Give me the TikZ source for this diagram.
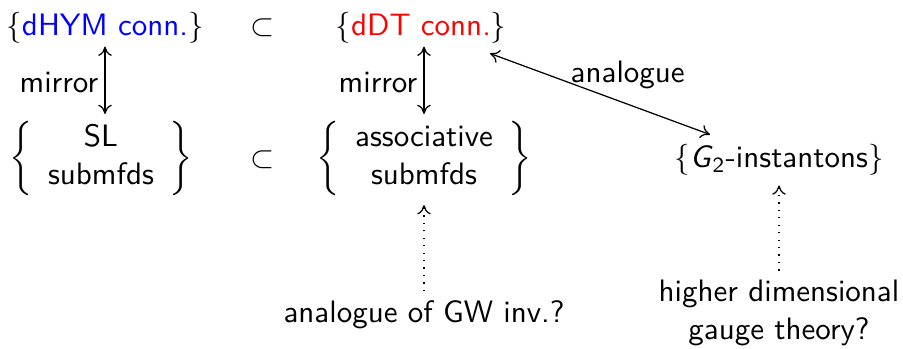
\documentclass[tikz,border=0pt]{standalone}
\usetikzlibrary{arrows.meta}
\begin{document}
\begin{tikzpicture}[x=0.3226pt,y=-0.3226pt,font=\sffamily,
  >={Computer Modern Rightarrow[length=3pt,width=4.4pt]},
  obj/.style={inner sep=3pt},
  mirrorarrow/.style={<->,line width=0.4pt,shorten <=-2.2pt,shorten >=-1pt},
  hintarrow/.style={->,dotted,line width=0.4pt}]
\useasboundingbox (0,0) rectangle (903,348);
% top row
\node[obj] (dhym) at (105,28) {$\{$\textcolor{blue}{dHYM conn.}$\}$};
\node[obj] (sub1) at (263,28) {$\subset$};
\node[obj] (ddt) at (421,28) {$\{$\textcolor{red}{dDT conn.}$\}$};
% middle row
\node[obj] (sl) at (101,158) {$\left\{\begin{array}{c}\textsf{SL}\\ \textsf{submfds}\end{array}\right\}$};
\node[obj] (sub2) at (263,160) {$\subset$};
\node[obj] (assoc) at (424,158) {$\left\{\begin{array}{c}\textsf{associative}\\ \textsf{submfds}\end{array}\right\}$};
\node[obj] (g2) at (779,160) {$\{$\textit{G}$_{\mathsf{2}}$-instantons$\}$};
% bottom row
\node[obj] (gw) at (424,315) {analogue of GW inv.?};
\node[obj,align=center] (hdg) at (779,313) {higher dimensional\\gauge theory?};
% connectors
\draw[mirrorarrow] (dhym.south) -- node[left,inner sep=2pt] {mirror} (dhym.south |- sl.north);
\draw[mirrorarrow] (ddt.south -| assoc.north) -- node[left,inner sep=2pt] {mirror} (assoc.north);
\draw[<->] (ddt) -- node[pos=0.35,anchor=west,yshift=2.3pt,inner sep=1pt] {analogue} (g2);
\draw[hintarrow] (gw.north) -- (assoc.south);
\draw[hintarrow] (hdg.north) -- (hdg.north |- g2.south);
\end{tikzpicture}
\end{document}
